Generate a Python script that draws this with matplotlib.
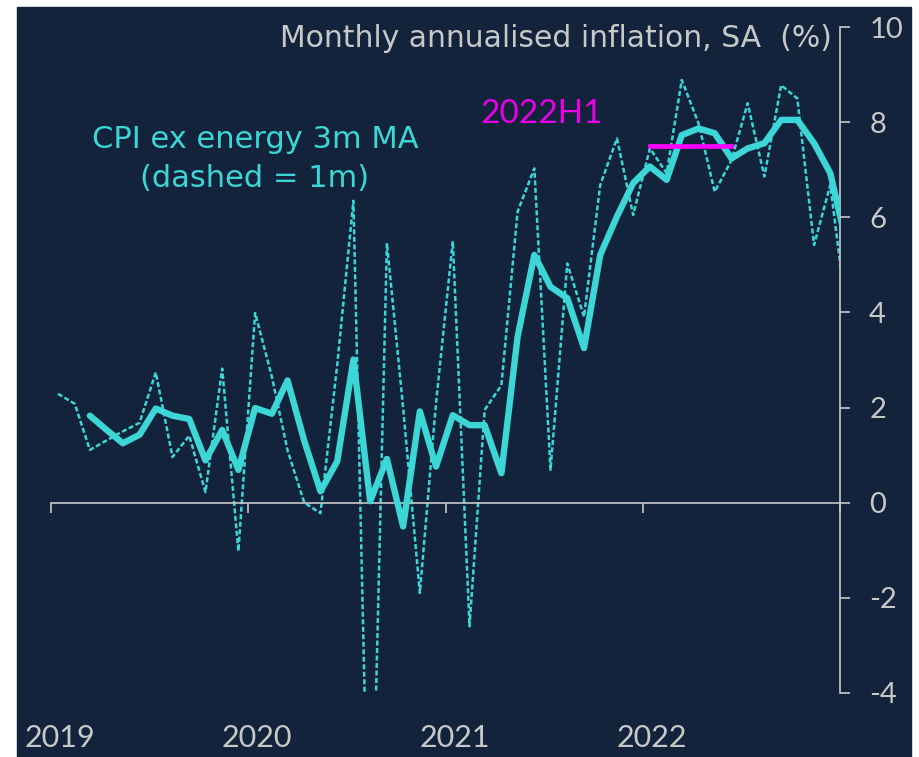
import pandas as pd
import matplotlib.pyplot as plt
from matplotlib.patches import Rectangle

# Dados (jan/2019 - jan/2023)
inflacao_1m = [2.29, 2.08, 1.11, 1.31, 1.50, 1.68, 2.74, 0.96, 1.41, 0.22, 2.82, -1.02,
               3.99, 2.65, 1.10, 0.00, -0.22, 2.90, 6.35, -9.16, 5.46, 2.00, -1.90, 2.10,
               5.50, -2.60, 1.95, 2.47, 6.12, 7.03, 0.69, 5.03, 3.91, 6.68, 7.66, 6.05,
               7.45, 6.93, 8.89, 7.98, 6.54, 7.20, 8.40, 6.86, 8.78, 8.50, 5.42, 6.68,
               3.90]
inflacao_3m = [None, None, 1.83, 1.53, 1.25, 1.43, 1.98, 1.83, 1.76, 0.89, 1.53, 0.69,
               1.99, 1.87, 2.57, 1.30, 0.24, 0.87, 3.01, 0.03, 0.92, -0.50, 1.92, 0.76,
               1.84, 1.63, 1.63, 0.62, 3.49, 5.21, 4.54, 4.30, 3.25, 5.21, 6.02, 6.72,
               7.07, 6.79, 7.73, 7.87, 7.77, 7.24, 7.45, 7.56, 8.05, 8.05, 7.56, 6.93,
               5.40]
anos = [2019, 2020, 2021, 2022]
h1_inicio, h1_fim, h1_media = '2022-01-14', '2022-06-14', 7.5

datas = pd.date_range('2019-01-01', periods=len(inflacao_1m), freq='MS') + pd.Timedelta(days=13)
df = pd.DataFrame({'m1': inflacao_1m, 'm3': inflacao_3m}, index=datas).astype(float)

fundo = '#12233b'
turquesa = '#3dd6d6'
cinza = '#c8c8c8'
magenta = '#ff00ff'

plt.rcParams['font.family'] = ['Lato', 'DejaVu Sans']
plt.rcParams['axes.unicode_minus'] = False

fig = plt.figure(figsize=(9.19, 7.57), dpi=100, facecolor='white')
fig.add_artist(Rectangle((17 / 919, 0), (911 - 17) / 919, 1 - 6.5 / 757,
                         transform=fig.transFigure, color=fundo, zorder=-10))
ax = fig.add_axes([51 / 919, 0.0847, 789 / 919, 0.8794])
ax.set_facecolor('none')

ax.plot(df.index, df['m1'], color=turquesa, lw=1.8, dashes=(2, 1), zorder=2)
ax.plot(df.index, df['m3'], color=turquesa, lw=4.6, solid_joinstyle='round',
        solid_capstyle='round', zorder=3)
ax.plot([pd.Timestamp(h1_inicio), pd.Timestamp(h1_fim)], [h1_media, h1_media],
        color=magenta, lw=3.4, zorder=4)

ax.set_xlim(pd.Timestamp('2019-01-01'), pd.Timestamp('2023-01-01'))
ax.set_ylim(-4, 10)

# eixos
for s in ['left', 'top']:
    ax.spines[s].set_visible(False)
ax.spines['bottom'].set_position(('data', 0))
ax.spines['bottom'].set_color(cinza)
ax.spines['right'].set_color(cinza)
ax.spines['bottom'].set_linewidth(1.2)
ax.spines['right'].set_linewidth(1.2)

ax.yaxis.tick_right()
ax.set_yticks(range(-4, 11, 2))
ax.tick_params(axis='y', colors=cinza, labelsize=21, length=7, width=1.2, pad=14)
ax.set_xticks([pd.Timestamp(f'{a}-01-01') for a in anos + [2023]])
ax.tick_params(axis='x', colors=cinza, length=7, width=1.2, labelbottom=False)

for a in anos:
    ax.text(pd.Timestamp(f'{a}-01-17'), -0.0808, str(a), color=cinza, fontsize=22,
            ha='center', va='baseline', transform=ax.get_xaxis_transform(), clip_on=False)

largo = ['DejaVu Sans']
ax.text(0.9899, 0.970, 'Monthly annualised inflation, SA  (%)', color=cinza, fontsize=21.5,
        family=largo, ha='right', va='baseline', transform=ax.transAxes)
ax.text(0.2586, 0.8179, 'CPI ex energy 3m MA', color=turquesa, fontsize=22,
        family=largo, ha='center', va='baseline', transform=ax.transAxes)
ax.text(0.2586, 0.760, '(dashed = 1m)', color=turquesa, fontsize=22,
        family=largo, ha='center', va='baseline', transform=ax.transAxes)
ax.text(0.622, 0.856, '2022H1', color='#e800e8', fontsize=24,
        ha='center', va='baseline', transform=ax.transAxes)

plt.savefig('out.png', dpi=100, facecolor=fig.get_facecolor())
